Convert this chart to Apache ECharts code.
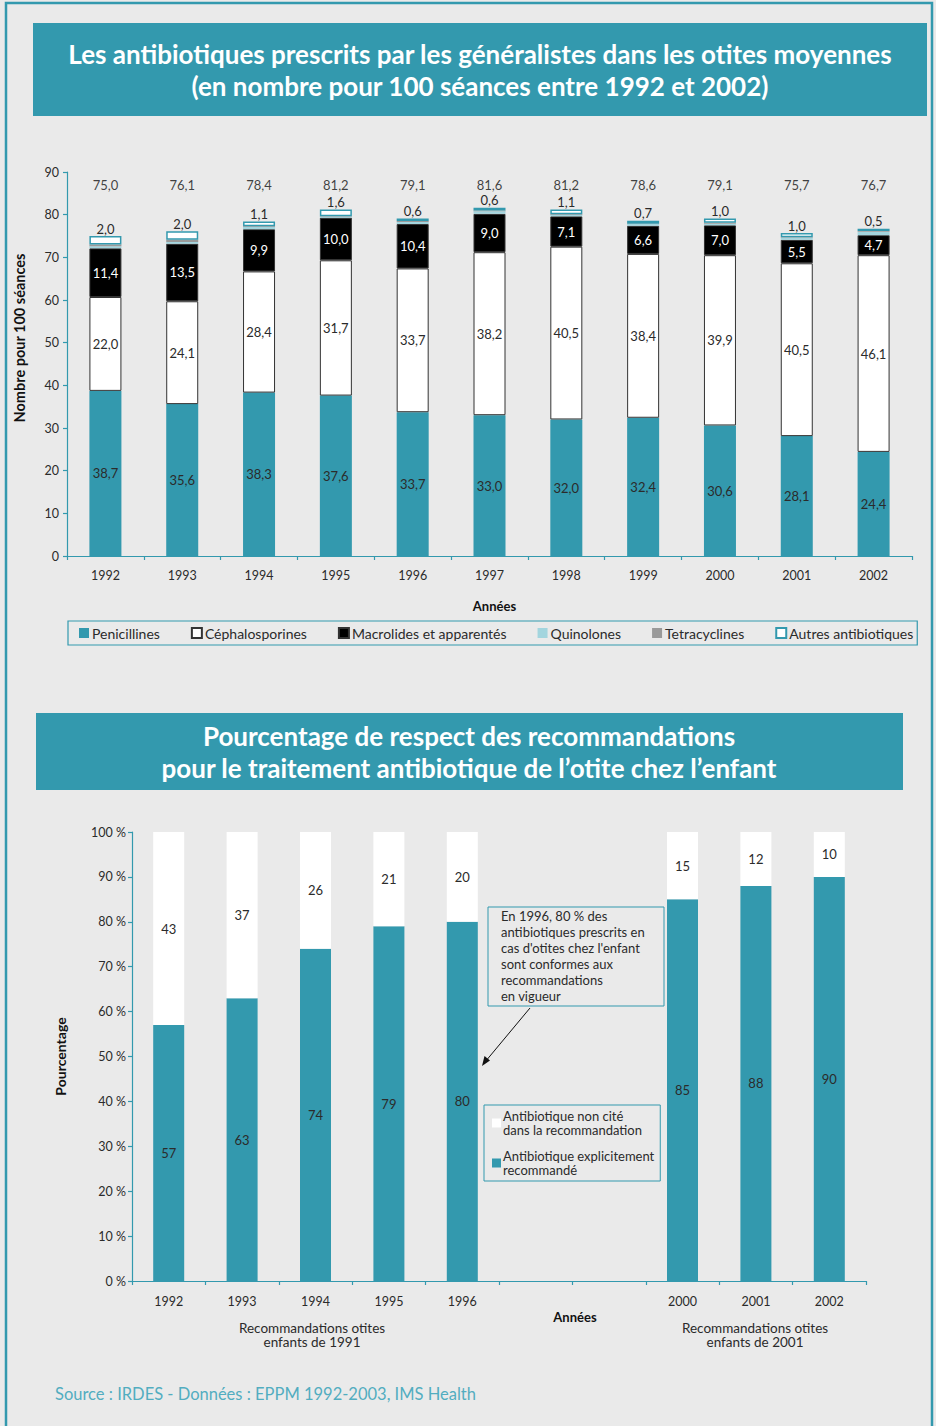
<!DOCTYPE html>
<html lang="fr">
<head>
<meta charset="utf-8">
<title>Antibiotiques et otites moyennes</title>
<script src="https://cdn.jsdelivr.net/npm/echarts@6/dist/echarts.min.js"></script>
<style>
  html, body { margin: 0; padding: 0; background: #eaeaea; }
  #chart { width: 936px; height: 1426px; }
</style>
</head>
<body>
<div id="chart"></div>
<script>
// --- Prescriptions pour 100 séances (otites moyennes) ---
const years = ['1992', '1993', '1994', '1995', '1996', '1997', '1998', '1999', '2000', '2001', '2002'];
const penicillines    = [38.7, 35.6, 38.3, 37.6, 33.7, 33.0, 32.0, 32.4, 30.6, 28.1, 24.4];
const cephalosporines = [22.0, 24.1, 28.4, 31.7, 33.7, 38.2, 40.5, 38.4, 39.9, 40.5, 46.1];
const macrolides      = [11.4, 13.5, 9.9, 10.0, 10.4, 9.0, 7.1, 6.6, 7.0, 5.5, 4.7];
const quinolones      = [0.5, 0.4, 0.5, 0.2, 0.5, 0.6, 0.3, 0.4, 0.4, 0.5, 0.8];
const tetracyclines   = [0.4, 0.5, 0.2, 0.1, 0.2, 0.2, 0.2, 0.1, 0.2, 0.1, 0.2];
const autres          = [2.0, 2.0, 1.1, 1.6, 0.6, 0.6, 1.1, 0.7, 1.0, 1.0, 0.5];
const totals          = [75.0, 76.1, 78.4, 81.2, 79.1, 81.6, 81.2, 78.6, 79.1, 75.7, 76.7];
const countTicks      = [0, 10, 20, 30, 40, 50, 60, 70, 80, 90];

// --- Respect des recommandations (%) ---
const periods        = ['1992', '1993', '1994', '1995', '1996', '', ' ', '2000', '2001', '2002'];
const recommande     = [57, 63, 74, 79, 80, null, null, 85, 88, 90];
const nonCite        = [43, 37, 26, 21, 20, null, null, 15, 12, 10];
const percentTicks   = [0, 10, 20, 30, 40, 50, 60, 70, 80, 90, 100];

const TEAL = '#3399ae';
const LIGHT = '#a3d5de';
const GREY = '#9a9a9a';
const TEXT = '#2b2b2b';
const FONT = 'Lato';

const fmt = v => v.toFixed(1).replace('.', ',');

const chart = echarts.init(document.getElementById('chart'), null, { renderer: 'svg' });

const axisLine = { show: true, lineStyle: { color: TEAL, width: 1.2 } };
const axisTick = { show: true, length: 4, lineStyle: { color: TEAL, width: 1.2 } };

function stackBar(name, data, color, opts) {
  return Object.assign({
    name: name,
    type: 'bar',
    stack: 'prescriptions',
    xAxisIndex: 0,
    yAxisIndex: 0,
    barWidth: 32,
    data: data,
    itemStyle: { color: color },
    emphasis: { disabled: true },
    animation: false
  }, opts || {});
}

const option = {
  backgroundColor: '#eaeaea',
  textStyle: { fontFamily: FONT, color: TEXT },
  animation: false,
  graphic: [
    // cadre de la page
    { type: 'rect', shape: { x: 6, y: 3, width: 926, height: 1440 }, style: { fill: 'none', stroke: TEAL, lineWidth: 2.5 }, silent: true },
    // bandeau de titre 1
    { type: 'rect', shape: { x: 33, y: 23, width: 894, height: 93 }, style: { fill: TEAL }, silent: true },
    { type: 'text', x: 480, y: 70, silent: true,
      style: { text: 'Les antibiotiques prescrits par les généralistes dans les otites moyennes\n(en nombre pour 100 séances entre 1992 et 2002)',
               fill: '#ffffff', font: 'bold 26px ' + FONT, align: 'center', verticalAlign: 'middle', lineHeight: 32 } },
    // bandeau de titre 2
    { type: 'rect', shape: { x: 36, y: 713, width: 867, height: 77 }, style: { fill: TEAL }, silent: true },
    { type: 'text', x: 469, y: 752, silent: true,
      style: { text: 'Pourcentage de respect des recommandations\npour le traitement antibiotique de l\u2019otite chez l\u2019enfant',
               fill: '#ffffff', font: 'bold 26px ' + FONT, align: 'center', verticalAlign: 'middle', lineHeight: 32 } },
    // encadré explicatif
    { type: 'rect', shape: { x: 488, y: 907, width: 176, height: 99 }, style: { fill: '#eaeaea', stroke: TEAL, lineWidth: 1 }, silent: true },
    { type: 'text', x: 501, y: 908, silent: true,
      style: { text: 'En 1996, 80 % des\nantibiotiques prescrits en\ncas d\'otites chez l\'enfant\nsont conformes aux\nrecommandations\nen vigueur',
               fill: TEXT, font: '13px ' + FONT, align: 'left', verticalAlign: 'top', lineHeight: 16 } },
    // flèche vers la barre de 1996
    { type: 'line', shape: { x1: 530, y1: 1008, x2: 485, y2: 1062 }, style: { stroke: '#111', lineWidth: 1 }, silent: true },
    { type: 'polygon', shape: { points: [[482, 1066], [484.5, 1056], [490, 1060.5]] }, style: { fill: '#111' }, silent: true },
    // périodes de recommandations
    { type: 'text', x: 312, y: 1321, silent: true,
      style: { text: 'Recommandations otites\nenfants de 1991', fill: TEXT, font: '13.5px ' + FONT, align: 'center', verticalAlign: 'top', lineHeight: 14 } },
    { type: 'text', x: 755, y: 1321, silent: true,
      style: { text: 'Recommandations otites\nenfants de 2001', fill: TEXT, font: '13.5px ' + FONT, align: 'center', verticalAlign: 'top', lineHeight: 14 } },
    // source
    { type: 'text', x: 55, y: 1394, silent: true,
      style: { text: 'Source : IRDES - Données : EPPM 1992-2003, IMS Health', fill: '#52adc0', font: '16.5px ' + FONT, align: 'left', verticalAlign: 'middle' } }
  ],
  legend: [
    {
      data: ['Penicillines', 'Céphalosporines', 'Macrolides et apparentés', 'Quinolones', 'Tetracyclines', 'Autres antibiotiques'],
      left: 68, top: 621,
      itemWidth: 10, itemHeight: 10, itemGap: 31,
      padding: [5, 4, 5, 11],
      borderColor: TEAL, borderWidth: 1.2,
      icon: 'rect',
      selectedMode: false,
      textStyle: { fontFamily: FONT, fontSize: 14, color: TEXT, padding: [0, 0, 0, -2] }
    },
    {
      data: ['Antibiotique non cité dans la recommandation', 'Antibiotique explicitement recommandé'],
      orient: 'vertical',
      left: 484, top: 1105,
      width: 177,
      itemWidth: 9, itemHeight: 9, itemGap: 12,
      padding: [4, 6, 4, 8],
      borderColor: TEAL, borderWidth: 1,
      icon: 'rect',
      selectedMode: false,
      formatter: n => n === 'Antibiotique explicitement recommandé'
        ? 'Antibiotique explicitement\nrecommandé'
        : 'Antibiotique non cité\ndans la recommandation',
      textStyle: { fontFamily: FONT, fontSize: 13, color: TEXT, lineHeight: 14, padding: [0, 0, 0, -3] }
    }
  ],
  grid: [
    { left: 67, right: 24, top: 172, bottom: 870, containLabel: false },
    { left: 132, right: 70, top: 832, bottom: 145, containLabel: false }
  ],
  xAxis: [
    {
      type: 'category', gridIndex: 0, data: years,
      axisLine: axisLine, axisTick: Object.assign({ alignWithLabel: false }, axisTick),
      axisLabel: { color: TEXT, fontSize: 12.5, margin: 13, fontFamily: FONT },
      name: 'Années', nameLocation: 'middle', nameGap: 43,
      nameTextStyle: { fontWeight: 'bold', fontSize: 13, color: '#111', fontFamily: FONT, padding: [0, 0, 0, 10] }
    },
    {
      type: 'category', gridIndex: 1, data: periods,
      axisLine: axisLine, axisTick: Object.assign({ alignWithLabel: false }, axisTick),
      axisLabel: { color: TEXT, fontSize: 12.5, margin: 14, fontFamily: FONT },
      name: 'Années', nameLocation: 'middle', nameGap: 29,
      nameTextStyle: { fontWeight: 'bold', fontSize: 13, color: '#111', fontFamily: FONT, padding: [0, 0, 0, 152] }
    }
  ],
  yAxis: [
    {
      type: 'value', gridIndex: 0, min: 0, max: 90, interval: 10,
      axisLine: axisLine, axisTick: axisTick, splitLine: { show: false },
      axisLabel: { color: TEXT, fontSize: 12.5, margin: 8, fontFamily: FONT, formatter: v => countTicks.includes(v) ? String(v) : '' },
      name: 'Nombre pour 100 séances', nameLocation: 'middle', nameGap: 40, nameRotate: 90,
      nameTextStyle: { fontWeight: 'bold', fontSize: 14.5, color: '#111', fontFamily: FONT, padding: [0, 0, 0, 52] }
    },
    {
      type: 'value', gridIndex: 1, min: 0, max: 100, interval: 10,
      axisLine: axisLine, axisTick: axisTick, splitLine: { show: false },
      axisLabel: { color: TEXT, fontSize: 12.5, margin: 6, fontFamily: FONT, formatter: v => percentTicks.includes(v) ? v + ' %' : '' },
      name: 'Pourcentage', nameLocation: 'middle', nameGap: 65, nameRotate: 90,
      nameTextStyle: { fontWeight: 'bold', fontSize: 14, color: '#111', fontFamily: FONT }
    }
  ],
  series: [
    stackBar('Penicillines', penicillines, TEAL, {
      label: { show: true, position: 'inside', formatter: p => fmt(p.value), color: TEXT, fontSize: 13, fontFamily: FONT }
    }),
    stackBar('Céphalosporines', cephalosporines, '#ffffff', {
      itemStyle: { color: '#ffffff', borderColor: '#333333', borderWidth: 1 },
      label: { show: true, position: 'inside', formatter: p => fmt(p.value), color: TEXT, fontSize: 13, fontFamily: FONT }
    }),
    stackBar('Macrolides et apparentés', macrolides, '#000000', {
      itemStyle: { color: '#000000', borderColor: '#333333', borderWidth: 1 },
      label: { show: true, position: 'inside', formatter: p => fmt(p.value), color: '#ffffff', fontSize: 13, fontFamily: FONT }
    }),
    stackBar('Quinolones', quinolones, LIGHT),
    stackBar('Tetracyclines', tetracyclines, GREY),
    stackBar('Autres antibiotiques', autres, '#ffffff', {
      itemStyle: { color: '#ffffff', borderColor: TEAL, borderWidth: 1.5 },
      label: { show: true, position: 'top', distance: 1, formatter: p => fmt(p.value), color: TEXT, fontSize: 13, fontFamily: FONT }
    }),
    {
      // ligne des totaux au-dessus des barres
      name: 'Total', type: 'scatter', xAxisIndex: 0, yAxisIndex: 0,
      symbolSize: 0, silent: true,
      data: totals.map((t, i) => [years[i], 87, t]),
      label: { show: true, position: 'inside', formatter: p => fmt(p.value[2]), color: '#111', fontSize: 13, fontFamily: FONT }
    },
    {
      name: 'Antibiotique explicitement recommandé', type: 'bar', stack: 'reco',
      xAxisIndex: 1, yAxisIndex: 1, barWidth: 31, data: recommande,
      itemStyle: { color: TEAL }, emphasis: { disabled: true },
      label: { show: true, position: 'inside', color: TEXT, fontSize: 13, fontFamily: FONT }
    },
    {
      name: 'Antibiotique non cité dans la recommandation', type: 'bar', stack: 'reco',
      xAxisIndex: 1, yAxisIndex: 1, barWidth: 31, data: nonCite,
      itemStyle: { color: '#ffffff' }, emphasis: { disabled: true },
      label: { show: true, position: 'inside', color: TEXT, fontSize: 13, fontFamily: FONT }
    }
  ]
};

chart.setOption(option);
</script>
</body>
</html>
